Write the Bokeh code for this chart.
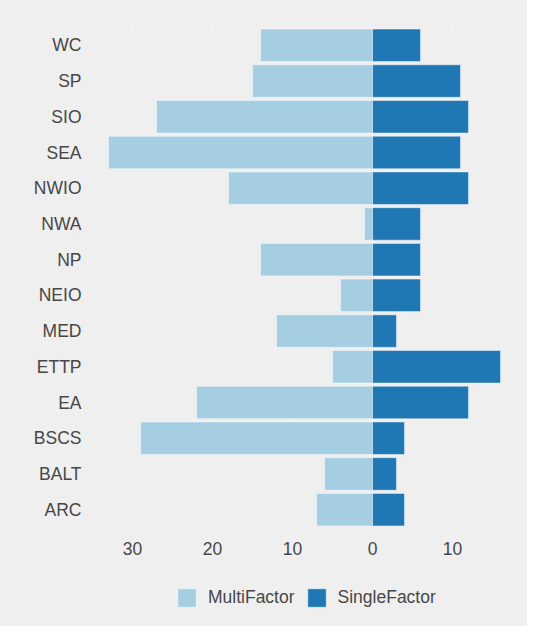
from bokeh.plotting import figure
from bokeh.layouts import column
from bokeh.models import ColumnDataSource, FixedTicker, Legend, LegendItem, FactorRange
from bokeh.embed import file_html
from bokeh.resources import INLINE

regions = ["WC", "SP", "SIO", "SEA", "NWIO", "NWA", "NP", "NEIO", "MED", "ETTP", "EA", "BSCS", "BALT", "ARC"]
multi_factor = [14, 15, 27, 33, 18, 1, 14, 4, 12, 5, 22, 29, 6, 7]
single_factor = [6, 11, 12, 11, 12, 6, 6, 6, 3, 16, 12, 4, 3, 4]
x_ticks = [-30, -20, -10, 0, 10]
x_tick_labels = ["30", "20", "10", "0", "10"]
series_names = ["MultiFactor", "SingleFactor"]
series_colors = ["#a6cee3", "#1f78b4"]

BG = "#efefef"
TXT = "#474747"
FONT = "Liberation Sans"

src = ColumnDataSource(dict(
    region=regions,
    multi=[-v for v in multi_factor],
    single=single_factor,
))

p = figure(
    frame_width=416, frame_height=500,
    y_range=FactorRange(factors=list(reversed(regions)), range_padding=0),
    x_range=(-34.5, 17.5),
    output_backend="svg", toolbar_location=None,
    min_border_left=96, min_border_right=15, min_border_top=27, min_border_bottom=40,
)
p.background_fill_color = BG
p.border_fill_color = BG
p.outline_line_color = None

bar_style = dict(height=0.91, line_color="white", line_alpha=0.45, line_width=1)
p.hbar(y="region", left=0, right="multi", source=src, fill_color=series_colors[0], **bar_style)
p.hbar(y="region", left=0, right="single", source=src, fill_color=series_colors[1], **bar_style)

p.xaxis.ticker = FixedTicker(ticks=x_ticks)
p.xaxis.major_label_overrides = {t: l for t, l in zip(x_ticks, x_tick_labels)}
for ax in (p.xaxis[0], p.yaxis[0]):
    ax.axis_line_color = None
    ax.major_tick_line_color = None
    ax.minor_tick_line_color = None
    ax.major_tick_out = 0
    ax.major_tick_in = 0
    ax.major_label_text_font = FONT
    ax.major_label_text_font_size = "17.5px"
    ax.major_label_text_color = TXT
p.xaxis.major_label_standoff = 14
p.yaxis.major_label_standoff = 15

p.xgrid.grid_line_color = "#f3f3f3"
p.xgrid.grid_line_width = 1
p.ygrid.grid_line_color = None

# legend strip below the chart (its frame lines up with the chart's frame)
lg = figure(width=527, height=59, x_range=(0, 1), y_range=(0, 1),
            output_backend="svg", toolbar_location=None,
            min_border=0, min_border_left=0, min_border_right=0,
            min_border_top=0, min_border_bottom=0)
lg.axis.visible = False
lg.grid.visible = False
lg.background_fill_color = BG
lg.border_fill_color = BG
lg.outline_line_color = None
lr1 = lg.hbar(y=[5], left=[5], right=[6], fill_color=series_colors[0], **bar_style)
lr2 = lg.hbar(y=[5], left=[5], right=[6], fill_color=series_colors[1], **bar_style)

legend = Legend(
    items=[LegendItem(label=series_names[0], renderers=[lr1]),
           LegendItem(label=series_names[1], renderers=[lr2])],
    location=(79, 17), orientation="horizontal",
    glyph_width=23, glyph_height=23, label_standoff=10, spacing=10,
    padding=0, margin=0, border_line_color=None, background_fill_alpha=0,
    label_text_font=FONT, label_text_font_size="17.5px", label_text_color=TXT,
)
lg.add_layout(legend, "center")

layout = column(p, lg, spacing=0, styles={"background-color": BG})
open("out.html", "w").write(file_html(layout, INLINE))
